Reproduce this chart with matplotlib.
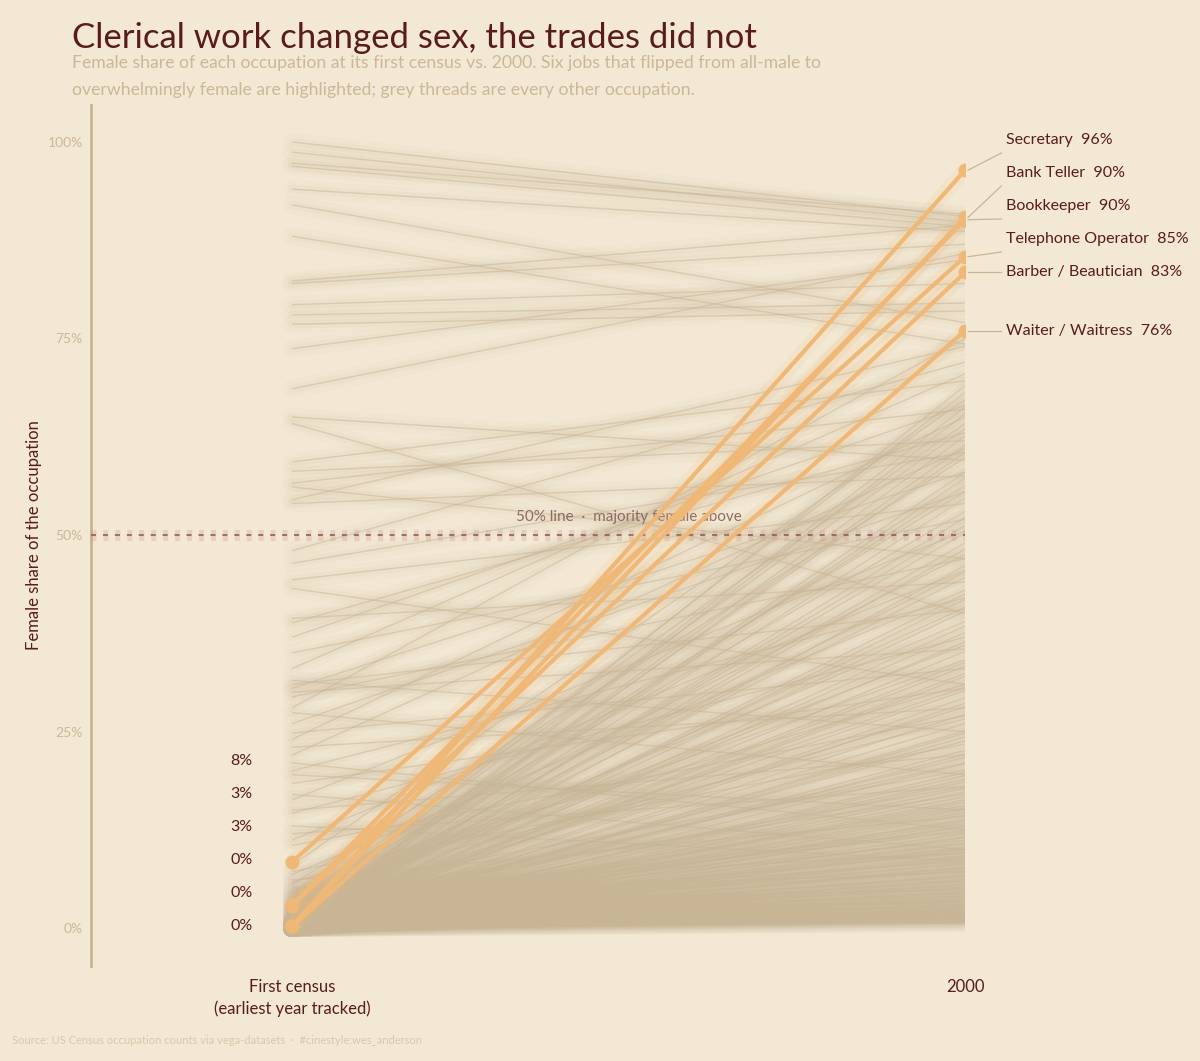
import matplotlib.pyplot as plt
from matplotlib.collections import LineCollection
from matplotlib.ticker import FuncFormatter

plt.rcParams['font.family'] = ['Lato', 'DejaVu Sans']
plt.rcParams['lines.scale_dashes'] = False

# Female share (%) at first census vs 2000, every other occupation (grey threads)
grey_first = [
    100.0, 98.7, 97.3, 96.9, 94.0, 92.0, 88.0, 82.3, 82.0, 79.3, 78.0, 76.8, 73.7, 68.6,
    65.0, 64.2, 59.3, 58.1, 56.6, 56.1, 54.5, 54.0,
    46.4, 44.3, 43.2, 39.4, 38.8, 35.0, 33.0, 31.5, 31.0, 30.5, 30.0, 29.4, 27.4, 26.0,
    24.8, 24.0, 23.0, 22.0, 21.0, 20.0, 19.5, 18.4, 17.0, 16.3, 15.0, 14.6, 13.0, 12.0,
    11.2, 10.5, 37.0, 48.0, 28.0,
    0.0, 0.1, 0.0, 0.3, 0.0, 0.2, 0.5, 0.0, 1.2, 0.0, 0.4, 0.8, 0.0, 2.0, 0.1, 0.0, 1.5,
    0.3, 0.0, 3.1, 0.0, 0.6, 0.2, 0.0, 1.1, 0.0, 4.0, 0.3, 0.0, 0.9, 2.4, 0.0, 0.1, 5.2,
    0.0, 0.4, 0.0, 1.8, 0.0, 0.2, 3.5, 0.0, 0.7, 0.0, 6.1, 0.3, 0.0, 1.3, 0.0, 0.5, 0.0,
    2.7, 0.0, 0.2, 4.5, 0.0, 0.9, 0.0, 7.2, 0.1, 0.0, 0.6, 0.0, 2.2, 0.0, 1.0, 5.8, 0.0,
    0.3, 3.9, 0.0, 0.8, 0.0, 2.9, 0.2, 0.0, 6.8, 1.4, 0.0, 4.2, 0.0, 0.5, 3.3, 0.0, 1.7,
    0.0, 5.5, 0.2, 2.5, 0.0, 8.0, 1.1,
    0.0, 0.0, 0.2, 0.0, 0.6, 0.0, 0.0, 1.0, 0.0, 0.2, 0.0, 0.9, 0.0, 0.3, 0.0, 2.1, 0.0,
    0.4, 0.0, 1.6, 0.0, 0.2, 0.0, 2.8, 0.0, 0.5, 0.0, 1.2, 0.0, 3.7, 0.0, 0.4, 0.0, 2.0,
    0.0, 0.7, 0.0, 4.8, 0.0, 1.9, 0.0, 0.3, 3.0, 0.0, 1.5, 0.0, 2.6, 0.0, 0.9, 0.0, 3.6,
    0.0, 1.3, 0.0, 4.4, 0.0, 2.3,
]
grey_2000 = [
    90.5, 89.8, 90.8, 89.2, 88.6, 77.0, 74.3, 89.4, 87.0, 82.0, 79.5, 78.5, 85.0, 85.8,
    59.5, 40.0, 69.6, 62.0, 66.0, 47.0, 74.0, 57.5,
    60.5, 54.0, 31.0, 44.0, 63.0, 52.0, 70.5, 25.0, 40.5, 58.0, 35.5, 47.0, 19.5, 55.5,
    33.0, 65.0, 28.0, 61.0, 12.5, 42.0, 15.0, 30.5, 10.0, 50.5, 22.0, 37.0, 8.5, 18.0,
    45.5, 27.0, 66.5, 72.0, 75.0,
    0.6, 0.8, 0.9, 1.1, 1.3, 1.4, 1.6, 1.9, 2.1, 2.3, 2.6, 2.7, 3.0, 3.3, 3.5, 3.8, 4.1,
    4.4, 4.7, 4.9, 5.2, 5.4, 5.9, 6.2, 6.5, 6.8, 7.1, 7.4, 7.8, 8.1, 8.5, 8.8, 9.2, 9.5,
    9.9, 10.3, 10.7, 11.2, 11.6, 12.0, 12.4, 12.9, 13.3, 13.8, 14.2, 14.7, 15.1, 15.6, 16.0, 16.7, 17.3,
    18.0, 18.6, 19.4, 20.1, 20.9, 21.7, 22.6, 23.4, 24.3, 25.1, 26.0, 27.2, 28.1, 29.3, 30.2, 31.0, 32.4,
    33.3, 34.1, 35.2, 36.4, 37.6, 39.0, 40.3, 41.8, 43.0, 44.6, 46.1, 47.5, 49.0, 51.2, 53.0, 54.7, 56.3,
    58.0, 59.8, 61.4, 63.5, 65.4, 67.2, 69.0,
    0.7, 1.0, 1.2, 1.7, 2.0, 2.4, 2.9, 3.2, 3.6, 4.0, 4.5, 5.0, 5.6, 6.0, 6.6, 7.2, 7.6,
    8.3, 9.0, 9.6, 10.1, 10.9, 11.5, 12.2, 13.0, 13.6, 14.4, 15.3, 16.3, 17.0, 17.8, 18.9, 19.8, 21.0,
    22.1, 23.8, 24.8, 26.6, 28.6, 30.6, 32.0, 33.8, 36.0, 38.4, 40.8, 42.5, 45.3, 48.2, 50.3, 52.2, 55.5,
    57.2, 60.5, 62.6, 64.2, 66.3, 68.1,
]

# Six highlighted jobs
hl_jobs = ["Secretary", "Bank Teller", "Bookkeeper", "Telephone Operator", "Barber / Beautician", "Waiter / Waitress"]
hl_first = [0.2, 0.2, 2.9, 8.4, 2.8, 0.2]
hl_2000 = [96.4, 90.4, 90.1, 85.4, 83.4, 76.0]

bg = "#f3e8d4"
grey = "#c8b596"
orange = "#efb876"
maroon = "#5a1c1a"
tan_text = "#cbb898"

fig = plt.figure(figsize=(12, 10.61), dpi=100, facecolor=bg)
ax = fig.add_axes([91 / 1200, 95 / 1061, 874 / 1200, 861 / 1061])
ax.set_facecolor(bg)
ax.set_xlim(-0.2987, 1.0)
ax.set_ylim(-4.83, 104.7)

# grey threads with a soft glow
segs = [[(0, a), (1, b)] for a, b in zip(grey_first, grey_2000)]
for lw, al, cap in [(13, 0.055, "round"), (6, 0.08, "round"), (1.0, 0.5, "butt")]:
    lc = LineCollection(segs, colors=grey, linewidths=lw, alpha=al, capstyle=cap, zorder=2)
    ax.add_collection(lc)

# 50% reference line
ax.axhline(50, color="#c99c92", lw=8, alpha=0.3, ls=(0, (3.6, 5.0)), zorder=3)
ax.axhline(50, color="#8e5e58", lw=1.2, ls=(0, (3.6, 5.0)), zorder=3)
ax.annotate("50% line  ·  majority female above", xy=(0.5, 50), xytext=(0, 13),
            textcoords="offset points", ha="center", va="center",
            fontsize=11, color="#8e6a62", zorder=4)

# highlighted jobs
for a, b in zip(hl_first, hl_2000):
    ax.plot([0, 1], [a, b], color=orange, lw=11, alpha=0.12, solid_capstyle="round", zorder=5)
    ax.plot([0, 1], [a, b], color=orange, lw=3, solid_capstyle="round", zorder=6)
    ax.plot([0, 1], [a, b], "o", ms=9, color=orange, zorder=7)

# start labels, stacked upward so they don't collide
gap = 4.2
prev = None
for i in sorted(range(len(hl_first)), key=lambda k: hl_first[k]):
    y = hl_first[i] if prev is None else max(hl_first[i], prev + gap)
    ax.text(-0.059, y, f"{hl_first[i]:.0f}%", ha="right", va="center", fontsize=11.5, color=maroon)
    prev = y

# end labels with leader lines
prev = None
for i in sorted(range(len(hl_2000)), key=lambda k: hl_2000[k]):
    v = hl_2000[i]
    y = v if prev is None else max(v, prev + gap)
    y_end = y - 1.6 if y - v > 0.5 else y
    ax.plot([1.0045, 1.054], [v, y_end], color=grey, lw=0.9, clip_on=False, zorder=4)
    ax.text(1.061, y, f"{hl_jobs[i]}  {v:.0f}%", ha="left", va="center", fontsize=11.5, color=maroon)
    prev = y

# axes styling
for s in ["top", "right", "bottom"]:
    ax.spines[s].set_visible(False)
ax.spines["left"].set_color("#c8b490")
ax.spines["left"].set_linewidth(2)
ax.set_yticks([0, 25, 50, 75, 100])
ax.yaxis.set_major_formatter(FuncFormatter(lambda v, p: f"{v:.0f}%"))
ax.tick_params(axis="y", length=0, pad=6, labelsize=10, labelcolor=tan_text)
ax.set_xticks([0, 1])
ax.set_xticklabels(["First census\n(earliest year tracked)", "2000"])
ax.tick_params(axis="x", length=0, pad=9, labelsize=12, labelcolor=maroon)
for lbl in ax.get_xticklabels():
    lbl.set_linespacing(1.45)
ax.set_ylabel("Female share of the occupation", fontsize=12, color=maroon)
ax.yaxis.set_label_coords(-0.056, 0.5)

fig.text(0.06, 1 - 38 / 1061, "Clerical work changed sex, the trades did not",
         fontsize=25, color=maroon, va="center")
fig.text(0.06, 1 - 63 / 1061,
         "Female share of each occupation at its first census vs. 2000. Six jobs that flipped from all-male to",
         fontsize=12.7, color=tan_text, va="center")
fig.text(0.06, 1 - 90 / 1061,
         "overwhelmingly female are highlighted; grey threads are every other occupation.",
         fontsize=12.7, color=tan_text, va="center")
fig.text(0.01, 1 - 1041 / 1061,
         "Source: US Census occupation counts via vega-datasets  ·  #cinestyle:wes_anderson",
         fontsize=8, color="#d8c9ab", va="center")

fig.savefig("out.png", dpi=100, facecolor=bg)
